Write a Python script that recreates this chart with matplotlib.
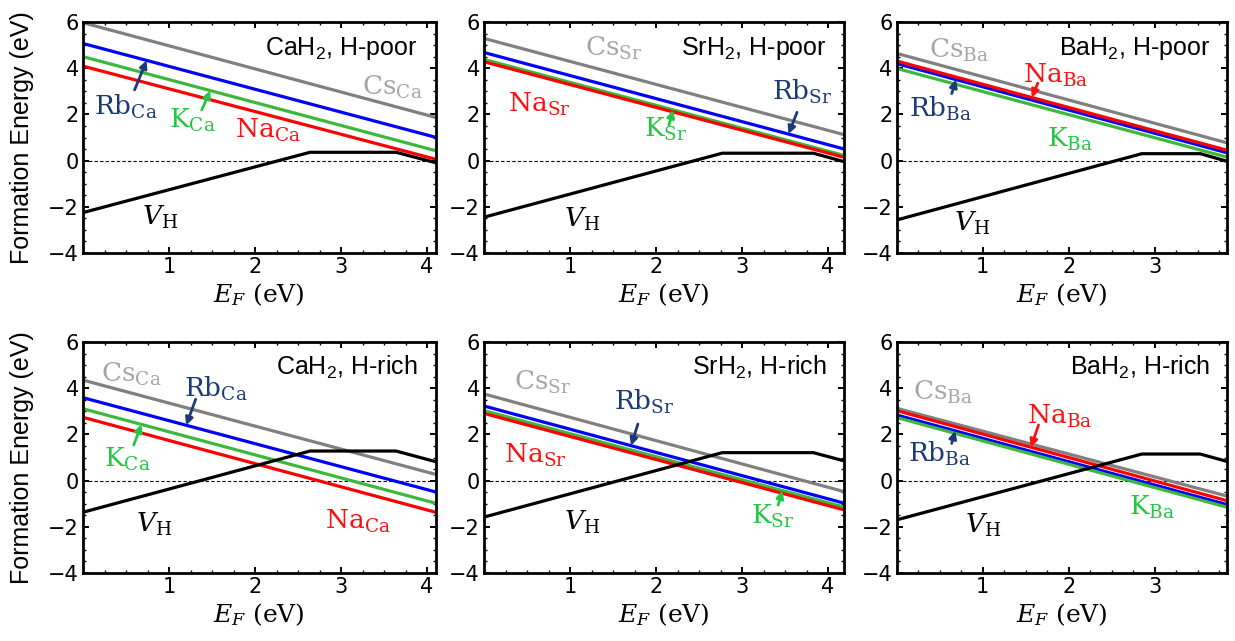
import matplotlib
matplotlib.use("Agg")
import matplotlib.pyplot as plt
from matplotlib.ticker import FixedLocator, MultipleLocator

# ---------------------------------------------------------------- data
hosts = ["CaH$_\\mathrm{2}$", "SrH$_\\mathrm{2}$", "BaH$_\\mathrm{2}$"]
host_sites = ["Ca", "Sr", "Ba"]
band_gaps = [4.10, 4.19, 3.84]          # eV, x-range of each column
conditions = ["H-poor", "H-rich"]

# Substitutional alkali dopants: formation energy at the VBM (E_F = 0)
# and at the CBM (E_F = band gap), per host, for each chemical condition.
cs_vbm = {"H-poor": [5.97, 5.29, 4.64], "H-rich": [4.35, 3.75, 3.13]}
cs_cbm = {"H-poor": [1.87, 1.12, 0.77], "H-rich": [0.27, -0.48, -0.67]}
rb_vbm = {"H-poor": [5.07, 4.68, 4.20], "H-rich": [3.59, 3.23, 2.84]}
rb_cbm = {"H-poor": [1.01, 0.50, 0.34], "H-rich": [-0.49, -0.98, -1.04]}
k_vbm = {"H-poor": [4.50, 4.38, 3.99], "H-rich": [3.11, 3.03, 2.73]}
k_cbm = {"H-poor": [0.43, 0.22, 0.15], "H-rich": [-0.98, -1.15, -1.15]}
na_vbm = {"H-poor": [4.09, 4.28, 4.31], "H-rich": [2.74, 2.91, 3.03]}
na_cbm = {"H-poor": [0.06, 0.14, 0.45], "H-rich": [-1.37, -1.27, -0.87]}

# Hydrogen vacancy: value at the VBM, neutral plateau, value at the CBM,
# and the (+/0) and (0/-) transition levels.
vh_vbm = {"H-poor": [-2.25, -2.45, -2.57], "H-rich": [-1.37, -1.58, -1.70]}
vh_neutral = {"H-poor": [0.36, 0.32, 0.30], "H-rich": [1.28, 1.21, 1.15]}
vh_cbm = {"H-poor": [-0.09, -0.05, -0.03], "H-rich": [0.82, 0.85, 0.83]}
vh_plus_zero = [2.64, 2.77, 2.85]
vh_zero_minus = [3.64, 3.83, 3.53]

# ---------------------------------------------------------------- styles
line_colors = {"Cs": "#808080", "Rb": "#0000ff", "K": "#3cb83c", "Na": "#ff0000"}
text_colors = {"Cs": "#a6a6a6", "Rb": "#1c3a78", "K": "#22c744", "Na": "#ff1010"}

# label placement (x, baseline y) and optional arrow (tail x, tail y, head x)
label_layout = {
    ("H-poor", 0): {"Rb": (0.50, 1.97, (0.60, 3.06, 0.74)),
                    "K": (1.27, 1.40, (1.38, 2.19, 1.48)),
                    "Na": (2.15, 0.97, None),
                    "Cs": (3.60, 2.84, None),
                    "VH": (0.90, -2.79)},
    ("H-poor", 1): {"Cs": (1.51, 4.53, None),
                    "Na": (0.64, 2.12, None),
                    "K": (2.11, 1.04, (2.15, 1.54, 2.20)),
                    "Rb": (3.70, 2.62, (3.64, 2.09, 3.54)),
                    "VH": (1.14, -2.86)},
    ("H-poor", 2): {"Cs": (0.73, 4.43, None),
                    "Na": (1.85, 3.35, (1.64, 3.35, 1.57)),
                    "Rb": (0.51, 1.90, (0.64, 2.90, 0.69)),
                    "K": (2.01, 0.60, None),
                    "VH": (0.88, -3.06)},
    ("H-rich", 0): {"Cs": (0.56, 4.28, None),
                    "Rb": (1.54, 3.63, (1.31, 3.52, 1.20)),
                    "K": (0.51, 0.60, (0.59, 1.54, 0.68)),
                    "Na": (3.19, -2.07, None),
                    "VH": (0.83, -2.21)},
    ("H-rich", 1): {"Cs": (0.68, 3.92, None),
                    "Rb": (1.86, 3.06, (1.79, 2.45, 1.71)),
                    "Na": (0.60, 0.75, None),
                    "K": (3.36, -1.85, (3.42, -1.06, 3.47)),
                    "VH": (1.14, -2.11)},
    ("H-rich", 2): {"Cs": (0.54, 3.49, None),
                    "Na": (1.89, 2.48, (1.65, 2.41, 1.56)),
                    "Rb": (0.50, 0.82, (0.64, 1.61, 0.68)),
                    "K": (2.97, -1.49, None),
                    "VH": (1.01, -2.28)},
}

plt.rcParams["mathtext.fontset"] = "dejavuserif"
plt.rcParams["mathtext.rm"] = "Liberation Sans"
plt.rcParams["mathtext.it"] = "Liberation Sans:italic"
plt.rcParams["mathtext.bf"] = "Liberation Sans:bold"
plt.rcParams["font.family"] = "DejaVu Sans"

W, H = 1235, 641
fig = plt.figure(figsize=(W / 100, H / 100), dpi=100)

px_per_ev = 86.0
col_left = [83, 484, 896.7]
row_top = [22, 342]
ax_h = 231

series = [("Cs", cs_vbm, cs_cbm), ("Rb", rb_vbm, rb_cbm),
          ("K", k_vbm, k_cbm), ("Na", na_vbm, na_cbm)]

serif = "DejaVu Serif"
lab_fs = 19

for r, cond in enumerate(conditions):
    for c, host in enumerate(hosts):
        gap = band_gaps[c]
        w = gap * px_per_ev
        ax = fig.add_axes([col_left[c] / W, (H - row_top[r] - ax_h) / H,
                           w / W, ax_h / H])
        site = host_sites[c]

        ax.axhline(0, color="black", lw=0.8, ls=(0, (3, 2)), zorder=1)

        # hydrogen vacancy (minimum over charge states)
        vx = [0.0, vh_plus_zero[c], vh_zero_minus[c], gap]
        vy = [vh_vbm[cond][c], vh_neutral[cond][c], vh_neutral[cond][c],
              vh_cbm[cond][c]]
        ax.plot(vx, vy, color="black", lw=2.3, solid_joinstyle="miter", zorder=3)

        lines = {}
        for name, vbm, cbm in series:
            y0, y1 = vbm[cond][c], cbm[cond][c]
            lines[name] = (y0, y1)
            ax.plot([0.0, gap], [y0, y1], color=line_colors[name], lw=2.3,
                    zorder=2)

        layout = label_layout[(cond, c)]
        for name, _, _ in series:
            lx, ly, arrow = layout[name]
            ax.text(lx, ly, r"$\mathrm{%s}_{\mathrm{%s}}$" % (name, site),
                    color=text_colors[name], fontsize=lab_fs, ha="center",
                    va="baseline", math_fontfamily="dejavuserif", zorder=5)
            if arrow is not None:
                tx, ty, hx = arrow
                y0, y1 = lines[name]
                hy = y0 + (y1 - y0) * hx / gap
                ax.annotate("", xy=(hx, hy), xytext=(tx, ty),
                            arrowprops=dict(arrowstyle="-|>", color=text_colors[name],
                                            lw=2.0, mutation_scale=11,
                                            shrinkA=0, shrinkB=0), zorder=5)
        vx_, vy_ = layout["VH"]
        ax.text(vx_, vy_, r"$V_{\mathrm{H}}$", color="black", fontsize=lab_fs,
                ha="center", va="baseline", math_fontfamily="dejavuserif")

        ax.text(0.95, 0.857, "%s, %s" % (host, cond), transform=ax.transAxes,
                ha="right", va="baseline", fontsize=18,
                family="Liberation Sans", math_fontfamily="custom")

        ax.set_xlim(0, gap)
        ax.set_ylim(-4, 6)
        ax.xaxis.set_major_locator(FixedLocator([t for t in (1, 2, 3, 4) if t <= gap]))
        ax.xaxis.set_minor_locator(MultipleLocator(0.25))
        ax.yaxis.set_major_locator(MultipleLocator(2))
        ax.yaxis.set_minor_locator(MultipleLocator(0.5))
        ax.tick_params(which="both", direction="in", top=True, right=True,
                       labelsize=15, pad=3)
        ax.tick_params(which="major", length=4.5, width=1.4)
        ax.tick_params(which="minor", length=2.5, width=1.0)
        for s in ax.spines.values():
            s.set_linewidth(2.0)

        xl = ax.set_xlabel(r"$E_F$ (eV)", fontsize=18, family=serif, labelpad=3)
        xl.set_math_fontfamily("dejavuserif")
        if c == 0:
            ax.set_ylabel("Formation Energy (eV)", fontsize=18,
                          family="Liberation Sans", labelpad=10)

fig.savefig("out.png", dpi=100)
